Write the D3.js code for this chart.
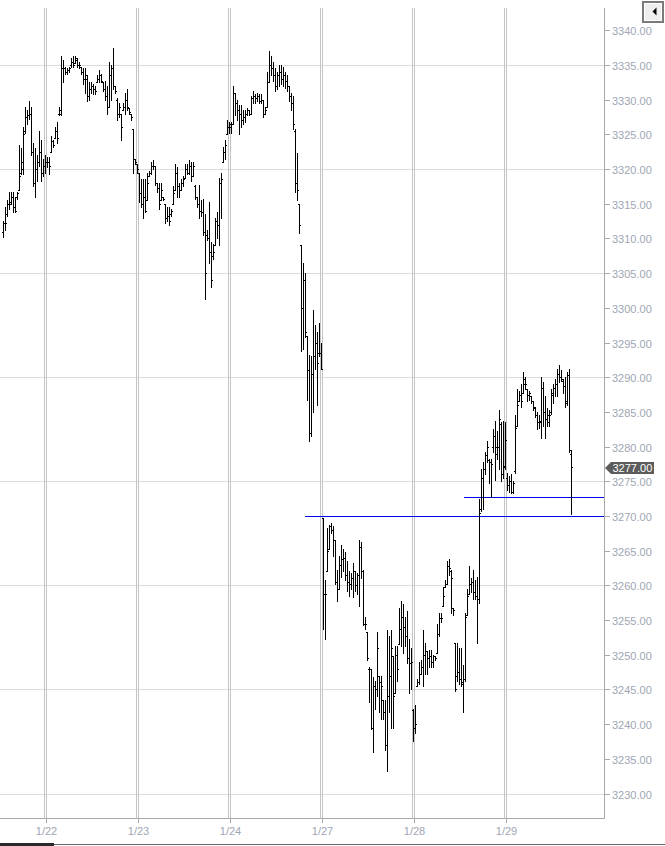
<!DOCTYPE html>
<html><head><meta charset="utf-8">
<script src="https://cdn.jsdelivr.net/npm/d3@7"></script>
<style>html,body{margin:0;padding:0;background:#fff;overflow:hidden}svg{display:block}</style>
</head><body><svg id="c" width="665" height="846"></svg>
<script>
// Session labels (first session is a partial 1/21 session, unlabeled on the axis)
const sessionLabels = ["", "1/22", "1/23", "1/24", "1/27", "1/28", "1/29"];
// OHLC bars per session: [open, high, low, close]
const s0121 = [
[3311,3312.5,3310.25,3312.25],[3312.25,3314.5,3311.25,3312.25],[3313.5,3315.5,3313.25,3315],[3315,3316.75,3314.25,3315],[3315.25,3316.75,3315,3316],
[3316,3316.75,3313.75,3314.5],[3314.5,3316,3313.75,3314],[3316,3316.75,3315.75,3316.5],[3317,3323.5,3317,3319],[3319.5,3323,3319.25,3321],
[3320,3326,3319.25,3325],[3325.5,3329,3325.25,3327.5],[3327.5,3328.5,3326.5,3327.75],[3327.75,3329.75,3327.25,3328],[3328,3329,3322,3322.5],
[3322.5,3323.75,3317.5,3318],[3318,3323,3316,3320],[3320,3322,3318.25,3321],[3321,3325.5,3320.5,3322.5],[3322.5,3324.25,3318.25,3319.5],
[3319.5,3321.5,3319,3320.5],[3320.5,3322,3319.5,3321]
];
const s0122 = [
[3321,3321.75,3320.25,3321],[3321,3321.75,3319.25,3320.5],[3322.5,3324.75,3322.5,3324],[3324,3324.25,3323.25,3323.5],[3324.5,3326,3324.5,3325.5],
[3325.5,3326.75,3323.75,3324.5],[3328,3329,3327.75,3328.5],[3328,3336.25,3327.75,3334.5],[3334.5,3335.75,3332.5,3334.5],[3334.5,3334.75,3333.75,3334],
[3334,3334.5,3333.75,3334.25],[3334.25,3334.75,3334,3334.5],[3335,3336,3334.75,3335.5],[3335.5,3336.25,3334.75,3335],[3335.25,3336.25,3335.25,3336],
[3335.75,3336,3334.75,3335],[3335,3335.5,3334.5,3335],[3334.75,3334.75,3333.75,3334],[3334,3334.5,3332.25,3333],[3333,3334.5,3331,3333.5],
[3333,3333.5,3329.75,3330.5],[3330.5,3332.5,3330,3331.5],[3331.5,3332.5,3331,3332],[3332,3332.25,3330.75,3331.5],[3331.5,3332,3330.75,3331.25],
[3332.5,3333.5,3332.5,3333],[3333,3334.25,3332.5,3333.5],[3333.5,3333.75,3332.5,3332.75],[3332.5,3332.5,3331.25,3331.5],[3331.5,3332.75,3330,3330.5],
[3330.5,3332,3328,3329],[3329,3335.5,3329,3333.5],[3333.5,3335,3330,3334.5],[3334.5,3337.5,3331.5,3332],[3332,3332,3331,3331.25],
[3330,3330.25,3327,3328],[3328,3329.5,3327.5,3329],[3328,3328,3324.25,3326],[3328.5,3329.5,3328.5,3329],[3329,3331,3328,3330],
[3330,3331.5,3328.5,3329],[3328.75,3328.75,3328,3328.25],[3328,3328,3327,3327.5],[3325.75,3325.75,3319.5,3321.5],[3321.5,3321.5,3320.75,3321],
[3320.75,3320.75,3319.5,3320]
];
const s0123 = [
[3319.5,3319.5,3315.25,3316.5],[3316.5,3318.5,3314.5,3315],[3315,3318.5,3313,3316],[3316,3318.5,3313.75,3314],[3315.5,3319.5,3315.5,3318],
[3319,3319.75,3319,3319.5],[3319.5,3321,3319.25,3320.5],[3320.5,3321.25,3320,3320.5],[3320.5,3320.5,3317.75,3318],[3318,3318,3316.75,3317.25],
[3317.25,3318,3314.25,3315],[3315.5,3318,3315.5,3317],[3316,3316,3315.5,3315.75],[3315,3315,3312.25,3313],[3313,3314.5,3312.5,3313.25],
[3313.25,3314.5,3312,3312.5],[3313.5,3314.25,3313.25,3314],[3315,3317.5,3315,3316.5],[3317,3320.75,3317,3319.5],[3319.5,3320.25,3316,3317.5],
[3317.5,3318,3316,3317],[3317,3318.5,3317,3318],[3318,3319,3317.5,3318.5],[3318.75,3320.75,3318.75,3320],[3320,3320.75,3319.25,3319.5],
[3319.5,3321.25,3319.25,3320.5],[3320.5,3321,3318.25,3319],[3319,3321,3319,3320.5],[3317.5,3317.75,3315.75,3316],[3316,3316,3314.5,3315],
[3315,3317.75,3313,3314],[3314,3315.5,3313.25,3313.75],[3313.75,3315.75,3310.5,3311],[3311,3313.5,3301.25,3305],[3310.5,3311.25,3309.75,3310],
[3310,3315.25,3306.5,3308],[3308,3309.5,3303,3304],[3307.5,3309.25,3307,3308],[3309,3313,3309,3312.5],[3312.5,3313.75,3310,3312],
[3312,3318.75,3309,3318],[3318,3319.5,3313,3318.5],[3321,3323.25,3321,3322.5],[3322.5,3324.25,3321.5,3323.5],[3325,3327,3325,3326],
[3326,3326.75,3325.25,3326.5]
];
const s0124 = [
[3326,3326.75,3325.25,3326.5],[3326.5,3332,3326.5,3331],[3331,3331,3327.75,3329.5],[3329.5,3330,3327,3328.5],[3328.5,3329.25,3325,3328],
[3328,3329.25,3326,3327],[3327,3328.5,3326.5,3327.5],[3327.5,3328.5,3326.75,3328],[3328,3328.75,3327.75,3328.5],[3328.5,3328.5,3327.75,3328],
[3328,3330.5,3328,3330.25],[3330.25,3331.25,3329.5,3330.5],[3330.5,3330.75,3329.5,3330.25],[3330.25,3331,3329.75,3330.5],[3330.5,3330.75,3329.5,3329.75],
[3329.75,3330.75,3329.5,3330],[3330,3330,3327.5,3328],[3328,3329,3328,3328.5],[3329,3334,3329,3332.5],[3332.5,3337,3332.5,3335],
[3335,3336.25,3333.5,3334.5],[3334.5,3335.5,3332.75,3333.5],[3333.5,3334.5,3331.25,3332],[3332,3334,3331.5,3333.5],[3333.5,3335,3332,3334],
[3334,3335,3332.25,3333],[3333,3334.75,3332,3333.5],[3333.5,3334,3331.75,3332.75],[3332.75,3333.5,3331.25,3332],[3332,3332,3329.75,3330.5],
[3330.5,3331,3328.5,3329.5],[3329.5,3330.5,3325.75,3326.5],[3325.5,3325.75,3316.75,3318],[3318,3322.25,3315.5,3317],[3315,3315,3310.75,3312],
[3309,3309,3293.75,3300],[3300,3306.5,3294,3304],[3304,3305,3295.75,3296.5],[3296,3296,3286.75,3291],[3291,3293.25,3280.75,3282],
[3282,3293,3281.5,3290.5],[3290.5,3299.75,3285,3293],[3293,3297.5,3291.25,3295],[3295,3296.5,3286,3292],[3293.5,3297.75,3293,3293.5],
[3293.5,3295,3291.25,3291.25]
];
const s0127 = [
[3269.75,3269.75,3253.75,3258.75],[3258.75,3260.75,3252.25,3258.75],[3262,3268.25,3262,3265],[3265.25,3268.75,3265.25,3268.5],[3268.5,3269,3267.5,3268],
[3268,3268.5,3264.25,3266.5],[3266.5,3266.5,3260.25,3260.5],[3260.5,3262.25,3257.75,3259.5],[3259.5,3264.25,3259.5,3263],[3263,3265.75,3261.25,3263.75],
[3263.75,3265.25,3262,3264],[3264,3264.75,3260.75,3261.5],[3261.5,3263.5,3259.25,3260.5],[3260.5,3262,3258.5,3260.25],[3260.25,3261.75,3259.5,3261],
[3261,3263.25,3258.25,3262],[3262,3262,3259.25,3260],[3260,3261.75,3258.75,3261.5],[3261.5,3266.5,3257,3265.5],[3265.5,3266.25,3261,3262],
[3262,3262.25,3254.25,3254.5],[3254.5,3255.5,3253.75,3254.5],[3253.25,3253.25,3249.25,3249.5],[3248,3248.25,3243.25,3248],[3248,3248,3239.25,3239.5],
[3239.5,3246.75,3236,3245.5],[3245.5,3246.25,3242.25,3245],[3245,3253.25,3244,3251],[3247,3247,3241.75,3246],[3246,3247,3240.75,3245.5],
[3243.5,3243.5,3240.75,3241.75],[3241.75,3243.5,3236.25,3237],[3237,3253.5,3233.25,3244],[3244,3252.75,3241.75,3247],[3247,3253.5,3239.5,3251],
[3249.75,3249.75,3239.5,3244],[3244.5,3251.25,3244.5,3250],[3250,3251.25,3246.25,3248],[3251.5,3256.75,3251.5,3253.75],[3253.75,3257.75,3251.25,3255.5],
[3255.5,3257.25,3250.25,3254],[3254,3255.5,3251.25,3252.75],[3252.75,3256.25,3248.75,3249.5],[3249.5,3252.25,3244.5,3248.75],[3248.75,3251,3245,3249],
[3242,3242.25,3237.5,3239.5]
];
const s0128 = [
[3239.5,3242.75,3238.75,3240],[3245.5,3246.5,3245.5,3246],[3246,3249,3245.75,3247.25],[3247.25,3249.25,3247.25,3248.25],[3248.25,3253.5,3245.5,3250],
[3250,3251.75,3247.25,3250.5],[3250.5,3250.5,3247.25,3249.5],[3249.5,3250.75,3248.25,3249.75],[3249.75,3250.75,3248.25,3249],[3249,3250,3248.25,3249.75],
[3249.75,3249.75,3249.25,3249.5],[3250.25,3254.5,3250.25,3253],[3253,3256,3252.75,3255.25],[3255.25,3256,3254.75,3255.25],[3257,3259.75,3257,3258.5],
[3259.75,3260.75,3259.75,3260.25],[3260.25,3263.5,3260.25,3262.75],[3262.75,3263.75,3261.5,3262.5],[3262,3262.25,3256,3261],[3256.75,3256.75,3255.75,3256.5],
[3251.75,3251.75,3244.75,3245],[3247,3251.75,3246.25,3247.5],[3247.5,3251,3245.75,3246.5],[3246.5,3251,3245.5,3245.75],[3246,3248.5,3241.75,3246.5],
[3246.5,3256,3246.25,3255.5],[3255.75,3259.5,3255.75,3258.5],[3258.75,3262.75,3258.75,3260.25],[3260.25,3261,3259,3260.5],[3260.5,3262.25,3258,3259],
[3259,3260.75,3258,3258.5],[3258.5,3261.25,3251.75,3258],[3258,3272.5,3257.5,3270.5],[3271,3276.75,3270.75,3275.5],[3275.5,3277.75,3271,3276.75],
[3276.75,3279.25,3276,3278.75],[3278.75,3280.75,3277.75,3280],[3278,3278.25,3274.75,3277.75],[3277.75,3278.25,3272.75,3277.5],[3280,3282.5,3279.25,3281.5],
[3281.5,3283.75,3275.25,3279],[3280,3282.25,3278.25,3280],[3280,3285.25,3276.75,3284],[3283.25,3283.5,3275,3276],[3276,3283.75,3275.5,3277.25],
[3277,3283.5,3276.75,3281]
];
const s0129 = [
[3275.5,3276.25,3273.75,3274.5],[3274.5,3275.75,3273.5,3275],[3275,3276,3273.25,3273.5],[3273.5,3275,3273.25,3274.75],[3276.5,3284.5,3276.25,3282.75],
[3283,3288.25,3283,3286],[3286.5,3288,3286.5,3287.5],[3287.5,3289,3285.75,3286.5],[3287.75,3290.75,3287.75,3289],[3289.75,3290,3288.25,3289],
[3288.25,3288.25,3286.5,3287.5],[3287.5,3288,3286.75,3287.75],[3287.25,3287.25,3286.25,3286.5],[3286.5,3286.5,3285.25,3285.75],[3285.5,3285.75,3284.25,3284.5],
[3284.5,3285,3282.5,3283.5],[3283.5,3284.5,3282.75,3283.75],[3283.5,3290,3281.25,3288.5],[3288.5,3289.25,3283,3285],[3285,3287.25,3281.25,3284],
[3284,3285.5,3283,3284.5],[3283.5,3285.25,3283,3284.5],[3285,3288.25,3284.75,3287.75],[3287.5,3289,3286.25,3288.5],[3288.5,3289.75,3287.25,3289],
[3289,3291.25,3287.25,3290.5],[3290.5,3291.75,3289.25,3290],[3290,3291,3289.5,3289.75],[3289.5,3289.75,3287.75,3288.75],[3288.75,3290,3285.75,3286.25],
[3286.5,3290.75,3286,3290.25],[3290.25,3291.25,3279.25,3279.5],[3279,3279.5,3270.25,3277]
];
const sessions = [s0121, s0122, s0123, s0124, s0127, s0128, s0129];
// Price axis labels and gridline levels
const yTickValues = d3.range(3230, 3341, 5);
const yGridValues = d3.range(3230, 3341, 15);
// Horizontal level lines: price and bar index where they start
const levelValues = [3270, 3272.75];
const levelStartBars = [151, 230.5];

// ---------- build ----------
const bars = [];
const sessionStart = [];
sessions.forEach(s => {
  sessionStart.push(bars.length);
  s.forEach(r => bars.push({o: r[0], h: r[1], l: r[2], c: r[3], i: bars.length}));
});
const lastClose = bars[bars.length - 1].c;

const W = 665, H = 846;
const plotL = 0, plotR = 604, plotT = 8, plotB = 818;
const x = d3.scaleLinear().domain([0, 1]).range([3, 5]);           // 2px per bar
const y = d3.scaleLinear().domain([3230, 3340]).range([793.5, 30.3]);
const py = v => Math.round(y(v)) + 0.5;

const svg = d3.select("#c");
const font = "'Liberation Sans', Arial, sans-serif";
const labelColor = "#9ea6b4";

// horizontal gridlines
svg.append("g").selectAll("line").data(yGridValues).join("line")
  .attr("x1", plotL).attr("x2", plotR).attr("y1", d => py(d)).attr("y2", d => py(d))
  .attr("stroke", "#dcdcdc").attr("stroke-width", 1);

// vertical double gridlines at session starts
const vg = svg.append("g");
sessionStart.slice(1).forEach(k => {
  const px = x(k);
  [px - 2.5, px - 0.5].forEach(xx => {
    vg.append("line").attr("x1", xx).attr("x2", xx).attr("y1", plotT).attr("y2", plotB)
      .attr("stroke", "#c4c4c4").attr("stroke-width", 1);
  });
});

// level lines
svg.append("g").selectAll("line").data(levelValues).join("line")
  .attr("x1", (d, i) => x(levelStartBars[i])).attr("x2", plotR)
  .attr("y1", d => py(d)).attr("y2", d => py(d))
  .attr("stroke", "#0000ee").attr("stroke-width", 1);

// OHLC bars
const bg = svg.append("g").attr("shape-rendering", "crispEdges").attr("fill", "#000");
bars.forEach(b => {
  const bx = x(b.i);
  const yt = Math.round(y(b.h)), yb = Math.round(y(b.l));
  bg.append("rect").attr("x", bx).attr("y", yt).attr("width", 1).attr("height", Math.max(1, yb - yt + 1));
  bg.append("rect").attr("x", bx - 1).attr("y", Math.round(y(b.o))).attr("width", 1).attr("height", 1);
  bg.append("rect").attr("x", bx + 1).attr("y", Math.round(y(b.c))).attr("width", 1).attr("height", 1);
});

// axes lines
svg.append("line").attr("x1", plotR + 0.5).attr("x2", plotR + 0.5).attr("y1", plotT).attr("y2", plotB + 1)
  .attr("stroke", "#a8a8a8");
svg.append("line").attr("x1", 0).attr("x2", plotR + 1).attr("y1", plotB + 0.5).attr("y2", plotB + 0.5)
  .attr("stroke", "#a8a8a8");

// y ticks + labels
const yt = svg.append("g");
yTickValues.forEach(v => {
  yt.append("line").attr("x1", plotR + 1).attr("x2", plotR + 6).attr("y1", py(v)).attr("y2", py(v)).attr("stroke", "#a8a8a8");
  yt.append("text").attr("x", 612).attr("y", py(v) + 4).text(v.toFixed(2))
    .attr("font-family", font).attr("font-size", 11).attr("fill", labelColor);
});

// x ticks + labels
const xt = svg.append("g");
sessionStart.forEach((k, d) => {
  if (!sessionLabels[d]) return;
  const px = x(k) - 0.5;
  xt.append("line").attr("x1", px).attr("x2", px).attr("y1", plotB + 1).attr("y2", plotB + 5).attr("stroke", "#a8a8a8");
  xt.append("text").attr("x", px).attr("y", 835).attr("text-anchor", "middle").text(sessionLabels[d])
    .attr("font-family", font).attr("font-size", 11).attr("fill", labelColor);
});

// last price tag
const yc = y(lastClose) + 0.5;
svg.append("path")
  .attr("d", `M605,${yc} L611,${yc - 6} L654,${yc - 6} L654,${yc + 6} L611,${yc + 6} Z`)
  .attr("fill", "#5c5c5c");
svg.append("text").attr("x", 612.5).attr("y", yc + 4).text(lastClose.toFixed(2))
  .attr("font-family", font).attr("font-size", 11).attr("fill", "#ffffff");

// top-right button
svg.append("rect").attr("x", 642).attr("y", 1).attr("width", 22).attr("height", 22).attr("fill", "#7a7a7a");
svg.append("rect").attr("x", 644).attr("y", 3).attr("width", 18).attr("height", 18).attr("fill", "#ffffff");
svg.append("rect").attr("x", 645).attr("y", 4).attr("width", 16).attr("height", 16).attr("fill", "#eeeeee");
svg.append("path").attr("d", "M652.5,11.5 L656.5,7.5 L656.5,15.5 Z").attr("fill", "#000");

// bottom scrollbar
svg.append("rect").attr("x", 54).attr("y", 844).attr("width", W - 54).attr("height", 1).attr("fill", "#666");
svg.append("rect").attr("x", 0).attr("y", 843).attr("width", 54).attr("height", 3).attr("fill", "#2a2a2a");
</script></body></html>
